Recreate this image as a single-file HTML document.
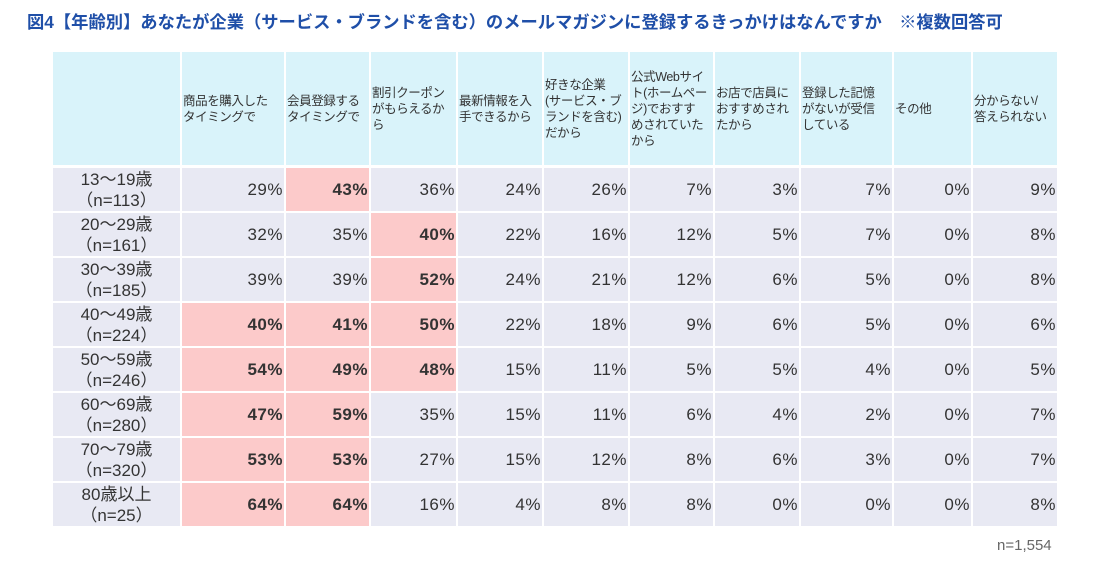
<!DOCTYPE html>
<html><head><meta charset="utf-8">
<style>
body{margin:0;width:1096px;height:561px;background:#fff;position:relative;overflow:hidden;font-family:"Liberation Sans","Noto Sans CJK JP",sans-serif;}
.t{position:absolute;left:27px;top:8px;font-size:17.3px;font-weight:bold;color:#1f4fa8;white-space:nowrap;}
.c{position:absolute;box-sizing:border-box;color:#333;display:flex;}
.h{background:#d9f3fa;font-size:12.5px;line-height:16px;align-items:center;padding-left:1px;white-space:nowrap;letter-spacing:-0.4px;}
.r{background:#e8e9f3;font-size:17px;line-height:21px;justify-content:center;align-items:center;text-align:center;}
.v{background:#e8e9f3;font-size:17px;letter-spacing:0.5px;justify-content:flex-end;align-items:center;padding-right:1px;}
.v.hi{background:#fccaca;font-weight:bold;}
.n{position:absolute;left:997px;top:537px;font-size:15px;color:#666;}
</style></head><body>
<div class="t">図4【年齢別】あなたが企業（サービス・ブランドを含む）のメールマガジンに登録するきっかけはなんですか　※複数回答可</div>
<div id="tbl"></div>
<div class="n">n=1,554</div>
<script>
const headers=["商品を購入した<br>タイミングで","会員登録する<br>タイミングで","割引クーポン<br>がもらえるか<br>ら","最新情報を入<br>手できるから","好きな企業<br>(サービス・ブ<br>ランドを含む)<br>だから","公式Webサイ<br>ト(ホームペー<br>ジ)でおすす<br>めされていた<br>から","お店で店員に<br>おすすめされ<br>たから","登録した記憶<br>がないが受信<br>している","その他","分からない/<br>答えられない"];
const rowLabels=["13～19歳<br>（n=113）","20～29歳<br>（n=161）","30～39歳<br>（n=185）","40～49歳<br>（n=224）","50～59歳<br>（n=246）","60～69歳<br>（n=280）","70～79歳<br>（n=320）","80歳以上<br>（n=25）"];
const values=[
[29,43,36,24,26,7,3,7,0,9],
[32,35,40,22,16,12,5,7,0,8],
[39,39,52,24,21,12,6,5,0,8],
[40,41,50,22,18,9,6,5,0,6],
[54,49,48,15,11,5,5,4,0,5],
[47,59,35,15,11,6,4,2,0,7],
[53,53,27,15,12,8,6,3,0,7],
[64,64,16,4,8,8,0,0,0,8]];
const highlights=[
[0,1,0,0,0,0,0,0,0,0],
[0,0,1,0,0,0,0,0,0,0],
[0,0,1,0,0,0,0,0,0,0],
[1,1,1,0,0,0,0,0,0,0],
[1,1,1,0,0,0,0,0,0,0],
[1,1,0,0,0,0,0,0,0,0],
[1,1,0,0,0,0,0,0,0,0],
[1,1,0,0,0,0,0,0,0,0]];
const colX=[53,182,286,371,458,544,630,715,801,894,973,1059];
const tbl=document.getElementById('tbl');
function mk(cls,x,y,w,h,html){const d=document.createElement('div');d.className='c '+cls;d.style.left=x+'px';d.style.top=y+'px';d.style.width=w+'px';d.style.height=h+'px';d.innerHTML='<span>'+html+'</span>';tbl.appendChild(d);return d;}
let e=mk('h',colX[0],52,colX[1]-colX[0]-2,113,'');


headers.forEach((h,j)=>{const d=mk('h',colX[j+1],52,colX[j+2]-colX[j+1]-2,113,h);

});
rowLabels.forEach((lab,i)=>{const y=168+i*45;
const d=mk('r',colX[0],y,colX[1]-colX[0]-2,43,lab);


values[i].forEach((v,j)=>{const c=mk('v'+(highlights[i][j]?' hi':''),colX[j+1],y,colX[j+2]-colX[j+1]-2,43,v+'%');

});});
</script>
</body></html>
